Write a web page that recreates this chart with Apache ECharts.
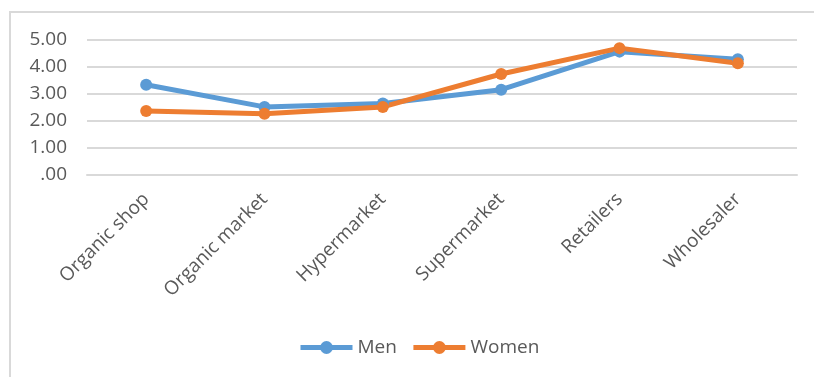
<!DOCTYPE html>
<html>
<head>
<meta charset="utf-8">
<script src="https://cdn.jsdelivr.net/npm/echarts@6/dist/echarts.min.js"></script>
<style>
  html, body { margin: 0; padding: 0; background: #ffffff; }
  #chart { width: 814px; height: 377px; }
</style>
</head>
<body>
<div id="chart"></div>
<script>
// Purchase channels and mean scores by gender
const categories = ['Organic shop', 'Organic market', 'Hypermarket', 'Supermarket', 'Retailers', 'Wholesaler'];
const menValues = [3.32, 2.50, 2.63, 3.14, 4.55, 4.27];
const womenValues = [2.35, 2.25, 2.50, 3.72, 4.68, 4.12];
const yTicks = [0, 1, 2, 3, 4, 5];

const FONT = '"Open Sans", "Liberation Sans", sans-serif';
const TEXT = '#595959';
const GRID = '#d9d9d9';

const chart = echarts.init(document.getElementById('chart'), null, { renderer: 'canvas' });

function lineSeries(name, data, color) {
  return {
    name: name,
    type: 'line',
    data: data,
    symbol: 'circle',
    symbolSize: 12,
    lineStyle: { color: color, width: 5 },
    itemStyle: { color: color },
    emphasis: { disabled: true },
    animation: false
  };
}

chart.setOption({
  backgroundColor: '#ffffff',
  animation: false,
  graphic: [{
    type: 'rect',
    shape: { x: 10, y: 12, width: 820, height: 380 },
    style: { fill: 'none', stroke: '#d9d9d9', lineWidth: 2 },
    silent: true
  }],
  grid: { left: 87, top: 39.5, width: 710, height: 134.8, containLabel: false },
  xAxis: {
    type: 'category',
    data: categories,
    boundaryGap: true,
    axisLine: { show: true, lineStyle: { color: GRID, width: 2 } },
    axisTick: { show: false },
    axisLabel: {
      rotate: 45,
      margin: 22,
      interval: 0,
      color: TEXT,
      fontFamily: FONT,
      fontSize: 19
    }
  },
  yAxis: {
    type: 'value',
    min: yTicks[0],
    max: yTicks[yTicks.length - 1],
    interval: 1,
    axisLine: { show: false },
    axisTick: { show: false },
    splitLine: { lineStyle: { color: GRID, width: 2 } },
    axisLabel: {
      margin: 20,
      color: TEXT,
      fontFamily: FONT,
      fontSize: 19,
      formatter: function (v) {
        return v === 0 ? '.00' : v.toFixed(2);
      }
    }
  },
  legend: {
    left: 293,
    top: 333,
    itemWidth: 52,
    itemHeight: 16,
    itemGap: 14,
    lineStyle: { width: 5 },
    textStyle: { color: TEXT, fontFamily: FONT, fontSize: 19 },
    data: ['Men', 'Women']
  },
  series: [
    lineSeries('Men', menValues, '#5b9bd5'),
    lineSeries('Women', womenValues, '#ed7d31')
  ]
});
</script>
</body>
</html>
